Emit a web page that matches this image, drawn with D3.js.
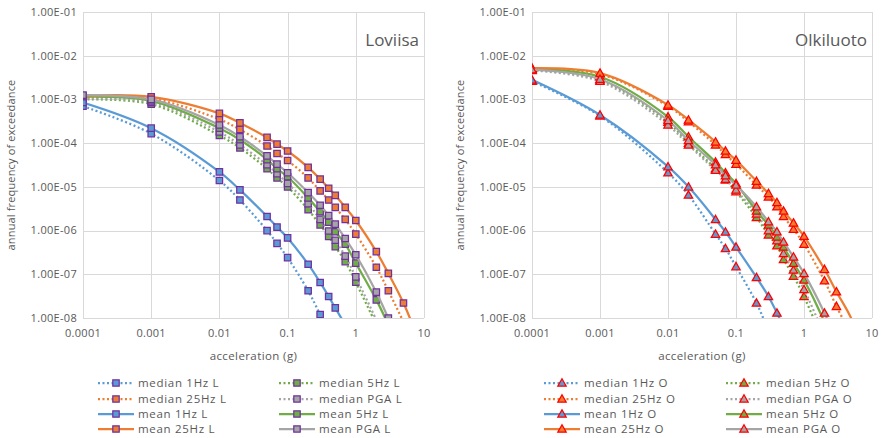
<!DOCTYPE html>
<html>
<head>
<meta charset="utf-8">
<script src="https://cdn.jsdelivr.net/npm/d3@7/dist/d3.min.js"></script>
<style>
  body { margin: 0; background: #fff; }
  svg text { font-family: "Open Sans", "Noto Sans", sans-serif; fill: #595959; }
</style>
</head>
<body>
<div id="chart"></div>
<script>
// acceleration points (g) shared by every curve
var accel = [0.0001, 0.001, 0.01, 0.02, 0.05, 0.07, 0.1, 0.2, 0.3, 0.4, 0.5, 0.7, 1, 2, 3, 5, 10];

var yTicks = [1e-1, 1e-2, 1e-3, 1e-4, 1e-5, 1e-6, 1e-7, 1e-8];
var yTickLabels = ["1.00E-01", "1.00E-02", "1.00E-03", "1.00E-04", "1.00E-05", "1.00E-06", "1.00E-07", "1.00E-08"];
var xTicks = [0.0001, 0.001, 0.01, 0.1, 1, 10];
var xTickLabels = ["0.0001", "0.001", "0.01", "0.1", "1", "10"];

// Loviisa
var loviisaMedian1Hz  = [7.0e-4, 1.65e-4, 1.4e-5, 5.0e-6, 1.0e-6, 5.1e-7, 2.4e-7, 4.2e-8, 1.2e-8, 5e-9, 2.5e-9];
var loviisaMedian5Hz  = [1.0e-3, 7.8e-4, 1.5e-4, 7.8e-5, 2.6e-5, 1.6e-5, 1.0e-5, 3.0e-6, 1.35e-6, 7.3e-7, 4.3e-7, 1.95e-7, 6.6e-8, 7e-9];
var loviisaMedian25Hz = [1.1e-3, 1.05e-3, 3.5e-4, 2.05e-4, 8.6e-5, 5.8e-5, 4.0e-5, 1.6e-5, 8.1e-6, 5.0e-6, 3.4e-6, 1.8e-6, 8.3e-7, 1.45e-7, 4.2e-8, 8e-9, 6e-10];
var loviisaMedianPGA  = [1.05e-3, 8.5e-4, 1.8e-4, 9.1e-5, 3.2e-5, 2.0e-5, 1.2e-5, 4.1e-6, 1.8e-6, 9.8e-7, 6.0e-7, 2.6e-7, 8.7e-8, 9e-9];
var loviisaMean1Hz    = [8.5e-4, 2.2e-4, 2.2e-5, 8.5e-6, 2.1e-6, 1.2e-6, 6.8e-7, 1.7e-7, 6.5e-8, 3.1e-8, 1.7e-8, 7e-9, 2.5e-9];
var loviisaMean5Hz    = [1.15e-3, 9.3e-4, 2.2e-4, 1.2e-4, 4.2e-5, 2.6e-5, 1.7e-5, 5.6e-6, 2.7e-6, 1.55e-6, 9.4e-7, 4.9e-7, 1.8e-7, 2.6e-8, 7e-9];
var loviisaMean25Hz   = [1.2e-3, 1.15e-3, 4.8e-4, 2.9e-4, 1.35e-4, 9.5e-5, 6.6e-5, 2.8e-5, 1.5e-5, 9.3e-6, 6.4e-6, 3.4e-6, 1.7e-6, 3.3e-7, 1.05e-7, 2.2e-8, 1.5e-9];
var loviisaMeanPGA    = [1.25e-3, 1.0e-3, 2.6e-4, 1.4e-4, 5.1e-5, 3.3e-5, 2.1e-5, 7.4e-6, 3.8e-6, 2.2e-6, 1.4e-6, 6.6e-7, 2.8e-7, 3.9e-8, 1.0e-8, 2e-9];

// Olkiluoto
var olkiMedian1Hz  = [2.6e-3, 4.2e-4, 2.1e-5, 6.5e-6, 8.3e-7, 3.9e-7, 1.5e-7, 2.2e-8, 5e-9, 1.5e-9];
var olkiMedian5Hz  = [4.7e-3, 2.8e-3, 3.0e-4, 1.0e-4, 2.6e-5, 1.45e-5, 7.8e-6, 2.0e-6, 8.0e-7, 4.5e-7, 2.2e-7, 9.1e-8, 3.1e-8, 2.5e-9];
var olkiMedian25Hz = [5.0e-3, 3.8e-3, 7.0e-4, 3.1e-4, 9.1e-5, 5.5e-5, 3.3e-5, 1.1e-5, 5.9e-6, 3.5e-6, 2.1e-6, 1.07e-6, 4.9e-7, 7.1e-8, 1.85e-8, 4e-9];
var olkiMedianPGA  = [4.6e-3, 2.6e-3, 2.6e-4, 9.1e-5, 2.4e-5, 1.5e-5, 8.5e-6, 2.4e-6, 1.0e-6, 5.9e-7, 3.0e-7, 1.25e-7, 4.5e-8, 4e-9];
var olkiMean1Hz    = [2.8e-3, 4.4e-4, 2.9e-5, 1.0e-5, 1.8e-6, 9.3e-7, 4.2e-7, 8.5e-8, 3.1e-8, 1.3e-8, 6e-9, 1.5e-9];
var olkiMean5Hz    = [5.0e-3, 3.3e-3, 4.0e-4, 1.4e-4, 3.7e-5, 2.1e-5, 1.2e-5, 2.8e-6, 1.35e-6, 7.2e-7, 4.2e-7, 1.8e-7, 7.4e-8, 8e-9, 1.5e-9];
var olkiMean25Hz   = [5.2e-3, 4.0e-3, 7.5e-4, 3.4e-4, 1.07e-4, 6.6e-5, 4.1e-5, 1.35e-5, 7.1e-6, 4.4e-6, 2.8e-6, 1.5e-6, 7.4e-7, 1.3e-7, 4.0e-8, 9.5e-9, 5e-10];
var olkiMeanPGA    = [4.8e-3, 2.9e-3, 3.3e-4, 1.15e-4, 3.2e-5, 1.8e-5, 1.1e-5, 3.5e-6, 1.6e-6, 9.4e-7, 5.5e-7, 2.5e-7, 1.05e-7, 1.3e-8, 3e-9];

var BLUE = "#5B9BD5", ORANGE = "#ED7D31", GREEN = "#70AD47", GRAY = "#A5A5A5";

var W = 881, H = 438;
var svg = d3.select("#chart").append("svg").attr("width", W).attr("height", H);

function panel(p) {
  var x = d3.scaleLog().domain([1e-4, 10]).range([p.left, p.right]),
      y = d3.scaleLog().domain([1e-8, 1e-1]).range([318, 12]);
  var g = svg.append("g");

  g.append("clipPath").attr("id", p.id + "-clip")
    .append("rect").attr("x", p.left).attr("y", 12)
    .attr("width", p.right - p.left).attr("height", 306);

  /* grid */
  g.selectAll(".hgrid").data(yTicks).enter().append("line")
    .attr("x1", p.left).attr("x2", p.right)
    .attr("y1", function(d){ return Math.round(y(d)) + 0.5; })
    .attr("y2", function(d){ return Math.round(y(d)) + 0.5; })
    .style("stroke", "#D9D9D9");
  g.selectAll(".vgrid").data(xTicks).enter().append("line")
    .attr("y1", 12).attr("y2", 318)
    .attr("x1", function(d){ return Math.round(x(d)) + 0.5; })
    .attr("x2", function(d){ return Math.round(x(d)) + 0.5; })
    .style("stroke", "#D9D9D9");

  /* tick labels */
  g.selectAll(".ylabel").data(yTicks).enter().append("text")
    .attr("x", p.left - 6).attr("y", y).attr("dy", "0.35em")
    .attr("text-anchor", "end").style("font-size", "11px")
    .style("letter-spacing", "0.3px")
    .text(function(d, i){ return yTickLabels[i]; });
  g.selectAll(".xlabel").data(xTicks).enter().append("text")
    .attr("x", x).attr("y", 337)
    .attr("text-anchor", "middle").style("font-size", "11px")
    .style("letter-spacing", "0.3px")
    .text(function(d, i){ return xTickLabels[i]; });

  /* axis titles */
  g.append("text")
    .attr("transform", "translate(" + (p.left - 68) + ",165) rotate(-90)")
    .attr("text-anchor", "middle").style("font-size", "11px")
    .style("letter-spacing", "0.15px")
    .text("annual frequency of exceedance");
  g.append("text")
    .attr("x", (p.left + p.right) / 2).attr("y", 360)
    .attr("text-anchor", "middle").style("font-size", "11.5px")
    .style("letter-spacing", "0.4px")
    .text("acceleration (g)");

  g.append("text")
    .attr("x", p.right - 5).attr("y", 46)
    .attr("text-anchor", "end").style("font-size", "17px")
    .text(p.title);

  var line = d3.line()
    .x(function(d){ return x(d[0]); })
    .y(function(d){ return y(d[1]); })
    .curve(d3.curveCatmullRom.alpha(0.5));

  var plot = g.append("g").attr("clip-path", "url(#" + p.id + "-clip)");

  p.series.forEach(function(s) {
    var pts = s.values.map(function(v, i){ return [accel[i], v]; });
    plot.append("path")
      .attr("d", line(pts))
      .style("fill", "none")
      .style("stroke", s.color)
      .style("stroke-width", 2.25)
      .style("stroke-dasharray", s.dotted ? "2,2.5" : null);
    var shown = pts.filter(function(d){ return d[1] >= 1e-8 * 0.999; });
    plot.selectAll(null).data(shown).enter().append("path")
      .attr("transform", function(d){ return "translate(" + x(d[0]) + "," + y(d[1]) + ")"; })
      .attr("d", p.marker)
      .style("fill", s.color)
      .style("stroke", p.markerStroke)
      .style("stroke-width", 1.25);
  });

  /* legend */
  var cols = [p.legendCol1, p.legendCol2];
  var rowsY = [383, 399, 414, 429];
  p.legendOrder.forEach(function(idx, k) {
    var s = p.series[idx],
        c = cols[k % 2],
        ly = rowsY[Math.floor(k / 2)];
    var lg = svg.append("g");
    lg.append("line")
      .attr("x1", c).attr("x2", c + 36).attr("y1", ly).attr("y2", ly)
      .style("stroke", s.color).style("stroke-width", 2.25)
      .style("stroke-dasharray", s.dotted ? "2,2.5" : null);
    lg.append("path")
      .attr("transform", "translate(" + (c + 18) + "," + ly + ")")
      .attr("d", p.marker)
      .style("fill", s.color).style("stroke", p.markerStroke).style("stroke-width", 1.25);
    lg.append("text")
      .attr("x", c + 40).attr("y", ly).attr("dy", "0.35em")
      .style("font-size", "11.5px").style("letter-spacing", "0.7px")
      .text(s.name);
  });
}

var square = "M-3.2,-3.2H3.2V3.2H-3.2Z";
var triangle = "M0,-4.2L4.2,3.2H-4.2Z";

function seriesList(vals, suffix) {
  return [
    { name: "median 1Hz " + suffix,  values: vals[0], color: BLUE,   dotted: true },
    { name: "median 5Hz " + suffix,  values: vals[1], color: GREEN,  dotted: true },
    { name: "median 25Hz " + suffix, values: vals[2], color: ORANGE, dotted: true },
    { name: "median PGA " + suffix,  values: vals[3], color: GRAY,   dotted: true },
    { name: "mean 1Hz " + suffix,    values: vals[4], color: BLUE,   dotted: false },
    { name: "mean 5Hz " + suffix,    values: vals[5], color: GREEN,  dotted: false },
    { name: "mean 25Hz " + suffix,   values: vals[6], color: ORANGE, dotted: false },
    { name: "mean PGA " + suffix,    values: vals[7], color: GRAY,   dotted: false }
  ];
}

// legend reads row by row: left column 1Hz/25Hz, right column 5Hz/PGA
var legendOrder = [0, 1, 2, 3, 4, 5, 6, 7];

panel({
  id: "lov", title: "Loviisa", left: 83, right: 424,
  series: seriesList([loviisaMedian1Hz, loviisaMedian5Hz, loviisaMedian25Hz, loviisaMedianPGA,
                      loviisaMean1Hz, loviisaMean5Hz, loviisaMean25Hz, loviisaMeanPGA], "L"),
  marker: square, markerStroke: "#7030A0",
  legendCol1: 98, legendCol2: 279, legendOrder: legendOrder
});

panel({
  id: "olk", title: "Olkiluoto", left: 532, right: 872,
  series: seriesList([olkiMedian1Hz, olkiMedian5Hz, olkiMedian25Hz, olkiMedianPGA,
                      olkiMean1Hz, olkiMean5Hz, olkiMean25Hz, olkiMeanPGA], "O"),
  marker: triangle, markerStroke: "#FF0000",
  legendCol1: 544, legendCol2: 726, legendOrder: legendOrder
});
</script>
</body>
</html>
